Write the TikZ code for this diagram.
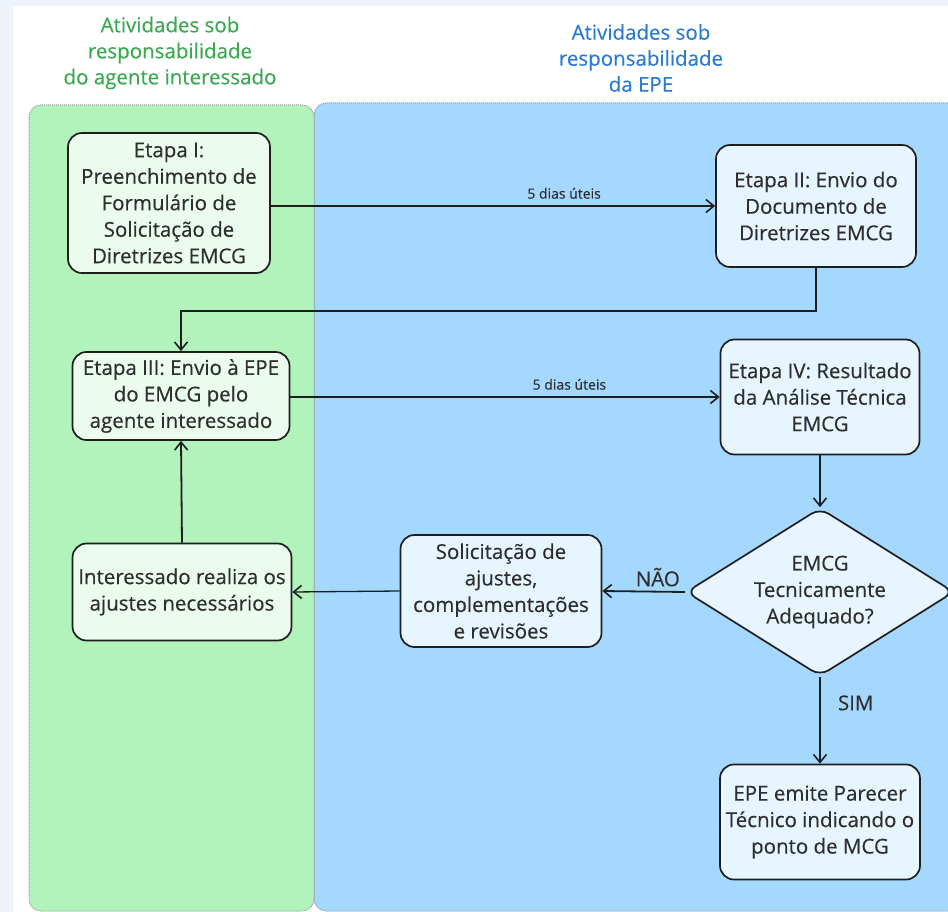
\documentclass[tikz,border=0pt]{standalone}
\usepackage{fontspec}
\setmainfont{Open Sans}[FakeBold=0.35]
\usetikzlibrary{shapes.geometric,arrows.meta}
\definecolor{fundo}{HTML}{EEF3FB}
\definecolor{verdepainel}{HTML}{B2F2BB}
\definecolor{azulpainel}{HTML}{A5D8FF}
\definecolor{verdecaixa}{HTML}{EBFBEE}
\definecolor{azulcaixa}{HTML}{E7F5FF}
\definecolor{contorno}{HTML}{1E1E1E}
\definecolor{texto}{HTML}{2E2E2E}
\definecolor{tituloverde}{HTML}{3BA951}
\definecolor{tituloazul}{HTML}{2B7BD2}
\begin{document}
\begin{tikzpicture}[x=1pt,y=-1pt,
  caixa/.style={draw=contorno,line width=1.7pt,rounded corners=14pt,align=center,
    font=\fontsize{20.5}{26.5}\selectfont,text=texto,inner sep=0pt},
  caixaverde/.style={caixa,fill=verdecaixa},
  caixaazul/.style={caixa,fill=azulcaixa},
  losango/.style={caixaazul,shape=diamond,rounded corners=10pt,aspect=1.6},
  titulo/.style={align=center,font=\fontsize{20.5}{26}\selectfont},
  painel/.style={draw=gray!80,densely dotted,line width=1pt,rounded corners=12pt},
  seta/.style={draw=contorno,line width=1.8pt,-{Straight Barb[length=8pt,width=13pt,line width=1.6pt]}},
  setafina/.style={seta,line width=1.3pt},
  rotulo/.style={font=\fontsize{14}{16}\selectfont,text=texto},
  rotulogrande/.style={font=\fontsize{20.5}{22}\selectfont,text=texto}]
\useasboundingbox (0,0) rectangle (948,912);
% fundo e paineis
\fill[fundo] (0,0) rectangle (948,912);
\fill[white] (13,6) rectangle (948,912);
\filldraw[painel,fill=azulpainel] (314,103) rectangle (970,911);
\filldraw[painel,fill=verdepainel] (29,105) rectangle (314,911);
\node (titagente) at (170,53)[titulo,text=tituloverde]{Atividades sob\\responsabilidade\\do agente interessado};
\node (titepe) at (641,58)[titulo,text=tituloazul]{Atividades sob\\responsabilidade\\da EPE};
% etapas
\node (etapa1) at (169,203)[caixaverde,minimum width=202pt,minimum height=140pt]{Etapa I:\\Preenchimento de\\Formulário de\\Solicitação de\\Diretrizes EMCG};
\node (etapa2) at (816,206)[caixaazul,minimum width=200pt,minimum height=122pt]{Etapa II: Envio do\\Documento de\\Diretrizes EMCG};
\node (etapa3) at (181,396)[caixaverde,minimum width=217pt,minimum height=88pt]{Etapa III: Envio à EPE\\do EMCG pelo\\agente interessado};
\node (etapa4) at (820,397)[caixaazul,minimum width=199pt,minimum height=115pt]{Etapa IV: Resultado\\da Análise Técnica\\EMCG};
\node (decisao) at (820,592)[losango,minimum width=268pt,minimum height=168pt]{EMCG\\Tecnicamente\\Adequado?};
\node (solicita) at (501,591)[caixaazul,minimum width=201pt,minimum height=112pt]{Solicitação de\\ajustes,\\complementações\\e revisões};
\node (ajustes) at (182,592)[caixaverde,minimum width=219pt,minimum height=97pt]{Interessado realiza os\\ajustes necessários};
\node (parecer) at (820,822)[caixaazul,minimum width=200pt,minimum height=115pt]{EPE emite Parecer\\Técnico indicando o\\ponto de MCG};
% setas
\draw[seta] (etapa1.east |- etapa2.west) -- (etapa2.west) node[pos=0.66,above=3pt,rotulo]{5 dias úteis};
\draw[seta] (etapa2.south) -- ++(0,43) -| (etapa3.north);
\draw[seta] (etapa3.east |- etapa4.west) -- (etapa4.west) node[pos=0.65,above=3pt,rotulo]{5 dias úteis};
\draw[setafina] (etapa4.south) -- (decisao.north);
\draw[seta] (decisao.west) -- (solicita.east) node[pos=0.33,above=1pt,rotulogrande]{NÃO};
\draw[setafina] (solicita.west) -- (ajustes.east);
\draw[seta] (ajustes.north) -- (etapa3.south);
\draw[setafina] (decisao.south) -- (parecer.north) node[pos=0.3,right=14pt,rotulogrande]{SIM};

\end{tikzpicture}
\end{document}
